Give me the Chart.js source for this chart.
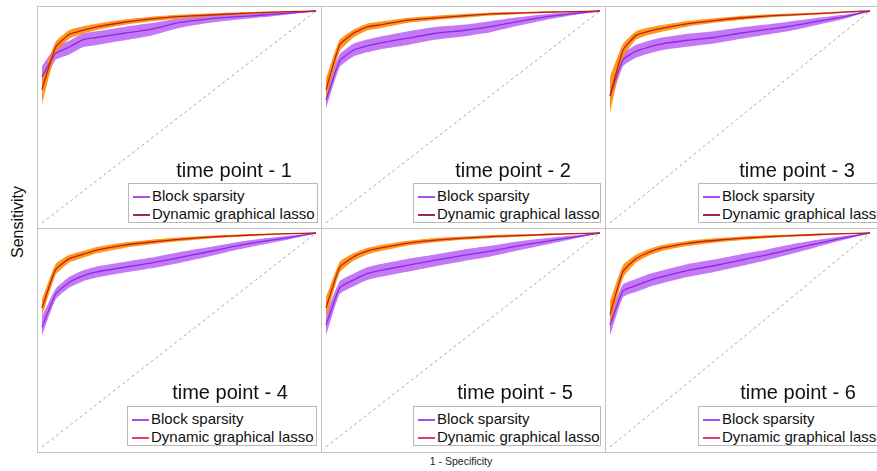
<!DOCTYPE html>
<html>
<head>
<meta charset="utf-8">
<script src="https://cdn.jsdelivr.net/npm/chart.js@4.4.1/dist/chart.umd.min.js"></script>
<style>
  html, body { margin:0; padding:0; background:#fff; width:877px; height:471px; overflow:hidden; }
  body { position:relative; font-family: "Liberation Sans", Arial, Helvetica, sans-serif; color:#111; }
  .panel { position:absolute; border:1px solid #c4c4c4; box-sizing:border-box; }
  canvas { position:absolute; }
  .title { position:absolute; font-size:20px; white-space:nowrap; transform:translateX(-50%); z-index:5; }
  .legend { position:absolute; border:1px solid #b8b8b8; background:#fff; box-sizing:border-box; z-index:5; font-size:15px; white-space:nowrap; overflow:visible; }
  .legend .row { position:absolute; left:0; height:18px; line-height:18px; }
  .legend .sw { position:absolute; top:9px; width:17px; height:2px; }
  .legend .tx { position:absolute; left:23px; }
  .ylab { position:absolute; left:18px; top:222px; font-size:16px; transform:translate(-50%,-50%) rotate(-90deg); white-space:nowrap; }
  .xlab { position:absolute; left:461px; top:461px; font-size:10.5px; transform:translate(-50%,-50%); white-space:nowrap; color:#222; }
</style>
</head>
<body>
<script>
// ---- data ----
const fpr = [0, 0.05, 0.1, 0.15, 0.2, 0.3, 0.4, 0.5, 0.6, 0.7, 0.8, 0.9, 1];
const panelTitles = ["time point - 1","time point - 2","time point - 3","time point - 4","time point - 5","time point - 6"];
const seriesNames = ["Block sparsity","Dynamic graphical lasso"];

const dgl1   = [0.63,0.83,0.89,0.91,0.925,0.947,0.963,0.973,0.98,0.987,0.992,0.997,1];
const dgl1Lo = [0.56,0.80,0.87,0.893,0.91,0.935,0.952,0.964,0.973,0.981,0.988,0.994,1];
const dgl1Hi = [0.68,0.855,0.91,0.928,0.94,0.96,0.973,0.982,0.988,0.993,0.997,1,1];
const bs1    = [0.69,0.80,0.83,0.865,0.875,0.895,0.915,0.945,0.962,0.972,0.98,0.99,1];
const bs1Lo  = [0.64,0.77,0.795,0.83,0.84,0.862,0.885,0.92,0.942,0.957,0.97,0.984,1];
const bs1Hi  = [0.74,0.83,0.86,0.895,0.905,0.925,0.943,0.965,0.978,0.985,0.99,0.996,1];

const dgl2   = [0.63,0.84,0.895,0.925,0.935,0.957,0.968,0.977,0.986,0.99,0.994,0.997,1];
const dgl2Lo = [0.58,0.81,0.875,0.908,0.92,0.945,0.958,0.968,0.979,0.985,0.99,0.995,1];
const dgl2Hi = [0.68,0.865,0.912,0.94,0.95,0.968,0.978,0.986,0.992,0.995,0.998,1,1];
const bs2    = [0.58,0.765,0.815,0.835,0.85,0.872,0.895,0.908,0.926,0.95,0.972,0.988,1];
const bs2Lo  = [0.54,0.735,0.785,0.805,0.82,0.84,0.865,0.88,0.9,0.93,0.958,0.98,1];
const bs2Hi  = [0.64,0.795,0.845,0.865,0.88,0.905,0.925,0.935,0.952,0.97,0.985,0.995,1];

const dgl3   = [0.60,0.815,0.885,0.905,0.918,0.94,0.955,0.967,0.976,0.982,0.988,0.995,1];
const dgl3Lo = [0.52,0.78,0.865,0.888,0.902,0.927,0.944,0.957,0.968,0.976,0.983,0.992,1];
const dgl3Hi = [0.69,0.845,0.905,0.922,0.934,0.953,0.966,0.977,0.984,0.988,0.993,0.998,1];
const bs3    = [0.60,0.77,0.81,0.83,0.845,0.862,0.875,0.895,0.912,0.93,0.952,0.972,1];
const bs3Lo  = [0.56,0.74,0.78,0.80,0.815,0.832,0.847,0.868,0.888,0.908,0.935,0.962,1];
const bs3Hi  = [0.64,0.80,0.84,0.86,0.875,0.893,0.905,0.922,0.936,0.952,0.968,0.982,1];

const dgl4   = [0.65,0.83,0.88,0.90,0.92,0.943,0.958,0.97,0.98,0.987,0.992,0.997,1];
const dgl4Lo = [0.61,0.805,0.862,0.884,0.905,0.93,0.947,0.961,0.973,0.981,0.988,0.994,1];
const dgl4Hi = [0.69,0.855,0.898,0.916,0.935,0.956,0.969,0.979,0.987,0.992,0.996,1,1];
const bs4    = [0.56,0.715,0.77,0.80,0.818,0.84,0.86,0.885,0.91,0.937,0.96,0.978,1];
const bs4Lo  = [0.52,0.69,0.745,0.775,0.792,0.815,0.835,0.86,0.888,0.918,0.945,0.97,1];
const bs4Hi  = [0.61,0.74,0.795,0.826,0.844,0.865,0.885,0.91,0.932,0.955,0.973,0.987,1];

const dgl5   = [0.65,0.84,0.888,0.915,0.93,0.953,0.967,0.976,0.983,0.988,0.993,0.997,1];
const dgl5Lo = [0.60,0.815,0.87,0.90,0.916,0.942,0.957,0.968,0.976,0.982,0.988,0.994,1];
const dgl5Hi = [0.70,0.865,0.905,0.93,0.944,0.964,0.977,0.984,0.99,0.994,0.997,1,1];
const bs5    = [0.57,0.745,0.78,0.81,0.825,0.85,0.873,0.895,0.915,0.94,0.96,0.98,1];
const bs5Lo  = [0.52,0.715,0.75,0.78,0.795,0.82,0.845,0.868,0.89,0.918,0.945,0.972,1];
const bs5Hi  = [0.62,0.775,0.81,0.84,0.855,0.88,0.90,0.922,0.94,0.96,0.975,0.988,1];

const dgl6   = [0.62,0.82,0.88,0.91,0.93,0.952,0.965,0.975,0.982,0.988,0.993,0.997,1];
const dgl6Lo = [0.57,0.79,0.862,0.895,0.916,0.94,0.955,0.966,0.975,0.982,0.988,0.994,1];
const dgl6Hi = [0.68,0.85,0.898,0.925,0.944,0.963,0.975,0.983,0.989,0.993,0.997,1,1];
const bs6    = [0.57,0.73,0.755,0.778,0.795,0.825,0.847,0.872,0.897,0.925,0.952,0.977,1];
const bs6Lo  = [0.52,0.70,0.725,0.748,0.765,0.795,0.818,0.845,0.872,0.903,0.936,0.968,1];
const bs6Hi  = [0.62,0.76,0.785,0.808,0.825,0.855,0.876,0.90,0.922,0.947,0.968,0.986,1];

const diagX = [0, 1];
const diagY = [0, 1];

// ---- layout ----
const panels = [
  {box:[37,6,285,223],   cv:[37,6,284,222],  data:[dgl1,dgl1Lo,dgl1Hi,bs1,bs1Lo,bs1Hi], t:[234,159], lg:[128,183,190,40], dglSw:'#9e2a4c'},
  {box:[321,6,285,223],  cv:[321,6,284,222], data:[dgl2,dgl2Lo,dgl2Hi,bs2,bs2Lo,bs2Hi], t:[513,159], lg:[413,183,188,40], dglSw:'#9e2a4c'},
  {box:[605,6,290,223],  cv:[605,6,270,222], data:[dgl3,dgl3Lo,dgl3Hi,bs3,bs3Lo,bs3Hi], t:[797,159], lg:[698,183,190,40], dglSw:'#9e2a4c'},
  {box:[37,228,285,225], cv:[37,228,284,224],data:[dgl4,dgl4Lo,dgl4Hi,bs4,bs4Lo,bs4Hi], t:[230,381], lg:[127,406,190,40], dglSw:'#e2406c'},
  {box:[321,228,285,225],cv:[321,228,284,224],data:[dgl5,dgl5Lo,dgl5Hi,bs5,bs5Lo,bs5Hi],t:[515,381], lg:[413,406,188,40], dglSw:'#e2406c'},
  {box:[605,228,290,225],cv:[605,228,270,224],data:[dgl6,dgl6Lo,dgl6Hi,bs6,bs6Lo,bs6Hi],t:[798,381], lg:[698,406,190,40], dglSw:'#e2406c'}
];

function pts(ys){ return fpr.map((x,i)=>({x:x, y:ys[i]})); }

panels.forEach((p, k) => {
  const b = document.createElement('div');
  b.className = 'panel';
  b.style.left = p.box[0]+'px'; b.style.top = p.box[1]+'px';
  b.style.width = p.box[2]+'px'; b.style.height = p.box[3]+'px';
  document.body.appendChild(b);

  const c = document.createElement('canvas');
  c.width = p.cv[2]; c.height = p.cv[3];
  c.style.left = p.cv[0]+'px'; c.style.top = p.cv[1]+'px';
  c.style.width = p.cv[2]+'px'; c.style.height = p.cv[3]+'px';
  document.body.appendChild(c);

  const [dm, dlo, dhi, bm, blo, bhi] = p.data;
  const base = {pointRadius:0, clip:false, tension:0.15};
  new Chart(c.getContext('2d'), {
    type:'line',
    data:{ datasets:[
      Object.assign({}, base, {label:'diag', data:diagX.map((x,i)=>({x:x,y:diagY[i]})), borderColor:'#a8a8a8', borderWidth:1, borderDash:[3,3], fill:false, order:10, tension:0}),
      Object.assign({}, base, {label:'bsHi', data:pts(bhi), borderWidth:0, borderColor:'rgba(0,0,0,0)', backgroundColor:'rgba(186,96,245,0.85)', fill:'+1', order:8}),
      Object.assign({}, base, {label:'bsLo', data:pts(blo), borderWidth:0, borderColor:'rgba(0,0,0,0)', fill:false, order:8}),
      Object.assign({}, base, {label:'dglHi', data:pts(dhi), borderWidth:0, borderColor:'rgba(0,0,0,0)', backgroundColor:'rgba(255,140,0,0.9)', fill:'+1', order:6}),
      Object.assign({}, base, {label:'dglLo', data:pts(dlo), borderWidth:0, borderColor:'rgba(0,0,0,0)', fill:false, order:6}),
      Object.assign({}, base, {label:seriesNames[0], data:pts(bm), borderColor:'#8a2be2', borderWidth:1.3, fill:false, order:3}),
      Object.assign({}, base, {label:seriesNames[1], data:pts(dm), borderColor:'#c0201a', borderWidth:1.3, fill:false, order:2})
    ]},
    options:{
      responsive:false, animation:false, devicePixelRatio:1,
      layout:{padding:5},
      plugins:{legend:{display:false}, tooltip:{enabled:false}, title:{display:false}},
      scales:{
        x:{type:'linear', min:0, max:1, display:false},
        y:{type:'linear', min:0, max:1, display:false}
      }
    }
  });

  const t = document.createElement('div');
  t.className = 'title'; t.textContent = panelTitles[k];
  t.style.left = p.t[0]+'px'; t.style.top = p.t[1]+'px';
  document.body.appendChild(t);

  const lg = document.createElement('div');
  lg.className = 'legend';
  lg.style.left = p.lg[0]+'px'; lg.style.top = p.lg[1]+'px';
  lg.style.width = p.lg[2]+'px'; lg.style.height = p.lg[3]+'px';
  const cols = ['#a64cf0', p.dglSw];
  seriesNames.forEach((n, i) => {
    const r = document.createElement('div');
    r.className = 'row'; r.style.top = (3 + i*18)+'px';
    const sw = document.createElement('div');
    sw.className = 'sw'; sw.style.left = '4px'; sw.style.background = cols[i];
    const tx = document.createElement('div');
    tx.className = 'tx'; tx.textContent = n;
    r.appendChild(sw); r.appendChild(tx); lg.appendChild(r);
  });
  document.body.appendChild(lg);
});

const yl = document.createElement('div'); yl.className='ylab'; yl.textContent='Sensitivity'; document.body.appendChild(yl);
const xl = document.createElement('div'); xl.className='xlab'; xl.textContent='1 - Specificity'; document.body.appendChild(xl);
</script>
</body>
</html>
